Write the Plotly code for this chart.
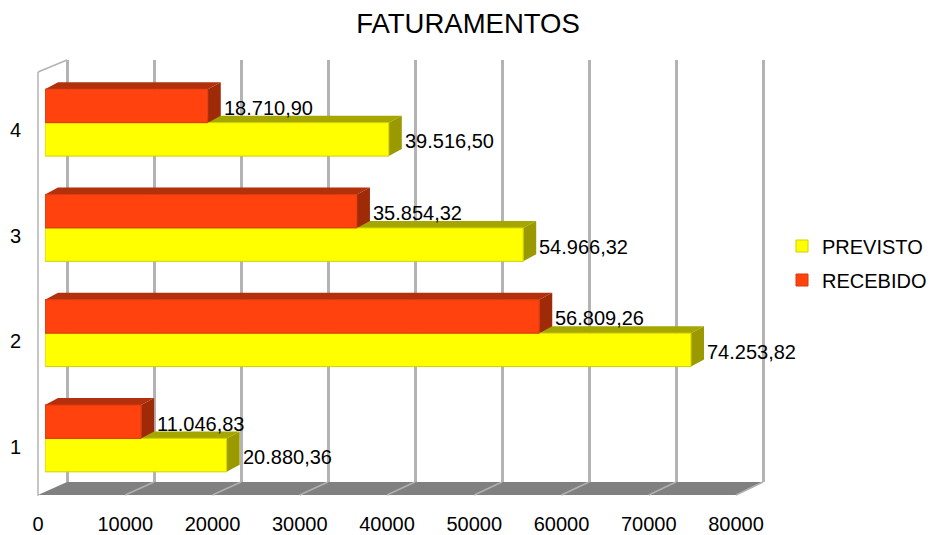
import plotly.graph_objects as go

# ---------------- data ----------------
categories = [1, 2, 3, 4]
previsto = [20880.36, 74253.82, 54966.32, 39516.50]
recebido = [11046.83, 56809.26, 35854.32, 18710.90]
series_names = ["PREVISTO", "RECEBIDO"]
x_ticks = [0, 10000, 20000, 30000, 40000, 50000, 60000, 70000, 80000]
chart_title = "FATURAMENTOS"

# ---------------- styling / geometry ----------------
W, H = 934, 535
FONT = "Liberation Sans, Arial, sans-serif"
X_MAX = 80000
PAD = 300

YELLOW, YELLOW_TOP, YELLOW_SIDE = "#ffff00", "#a6a600", "#9a9a00"
RED, RED_TOP, RED_SIDE = "#ff420e", "#b2300c", "#9e2a08"
GRID = "#b3b3b3"


def fx(px):
    return px / W


def fy(py):
    return 1 - py / H


BACK = dict(x0=67, x1=763, ytop=60, ybot=482)
FRONT = dict(x0=38, x1=736, ytop=77, ybot=500)
BARS = dict(x0=45, x1=741, ytop=70, ybot=491)
FLOOR_FRONT_Y = 495
WALL_TOP_Y = 72
DEPTH_PX = (13, 7)
BARGAP = 0.364

fmt = lambda v: f"{v:,.2f}".replace(",", "X").replace(".", ",").replace("X", ".")

fig = go.Figure()

# back plane (grid) subplot xy
sb = (BACK["x1"] - BACK["x0"]) / X_MAX
fig.add_trace(go.Scatter(x=[None], y=[None], xaxis="x", yaxis="y",
                         showlegend=False, hoverinfo="skip"))
# front label subplot x2y2
fig.add_trace(go.Scatter(x=[None], y=[None], xaxis="x2", yaxis="y2",
                         showlegend=False, hoverinfo="skip"))

# bars subplot x3y3
fig.add_trace(go.Bar(y=categories, x=previsto, orientation="h", name=series_names[0],
                     xaxis="x3", yaxis="y3", legendgroup="a",
                     marker=dict(color=YELLOW, line=dict(color="#d0d000", width=1))))
fig.add_trace(go.Bar(y=categories, x=recebido, orientation="h", name=series_names[1],
                     xaxis="x3", yaxis="y3", legendgroup="b",
                     marker=dict(color=RED, line=dict(color="#d8380c", width=1))))

# 3D faces of the bars (data coordinates on x3/y3)
bw = (1 - BARGAP) / 2
dx = DEPTH_PX[0] / ((BARS["x1"] - BARS["x0"]) / X_MAX)
dy = DEPTH_PX[1] / ((BARS["ybot"] - BARS["ytop"]) / 4.0)

shapes = []
annotations = []
for vals, off, top_c, side_c in ((previsto, -1, YELLOW_TOP, YELLOW_SIDE),
                                 (recebido, 0, RED_TOP, RED_SIDE)):
    for c, v in zip(categories, vals):
        b = c + off * bw
        t = b + bw
        shapes.append(dict(type="path", xref="x3", yref="y3", layer="between",
                           path=f"M 0,{t} L {v},{t} L {v+dx},{t+dy} L {dx},{t+dy} Z",
                           fillcolor=top_c, line=dict(width=0)))
        shapes.append(dict(type="path", xref="x3", yref="y3", layer="between",
                           path=f"M {v},{b} L {v},{t} L {v+dx},{t+dy} L {v+dx},{b+dy} Z",
                           fillcolor=side_c, line=dict(width=0)))
        annotations.append(dict(x=v, y=(b + t) / 2, xref="x3", yref="y3",
                                text=fmt(v), showarrow=False, xanchor="left",
                                yanchor="middle", xshift=DEPTH_PX[0] + 1, yshift=-2,
                                font=dict(family=FONT, size=20, color="#000000")))

# floor
sf = (FRONT["x1"] - FRONT["x0"]) / X_MAX
shapes.append(dict(type="path", xref="paper", yref="paper", layer="below",
                   path=(f"M {fx(FRONT['x0'])},{fy(FLOOR_FRONT_Y)} L {fx(BACK['x0'])},{fy(BACK['ybot'])} "
                         f"L {fx(BACK['x1'])},{fy(BACK['ybot'])} L {fx(FRONT['x1'])},{fy(FLOOR_FRONT_Y)} Z"),
                   fillcolor="#808080", line=dict(width=0)))
for v in x_ticks[1:]:
    shapes.append(dict(type="line", xref="paper", yref="paper", layer="below",
                       x0=fx(BACK["x0"] + v * sb), y0=fy(BACK["ybot"]),
                       x1=fx(FRONT["x0"] + v * sf), y1=fy(FLOOR_FRONT_Y),
                       line=dict(color="#b0b0b0", width=1.5)))
# left wall
shapes.append(dict(type="line", xref="paper", yref="paper", layer="below",
                   x0=fx(FRONT["x0"]), y0=fy(FLOOR_FRONT_Y + 1), x1=fx(FRONT["x0"]), y1=fy(WALL_TOP_Y),
                   line=dict(color=GRID, width=1.5)))
shapes.append(dict(type="line", xref="paper", yref="paper", layer="below",
                   x0=fx(FRONT["x0"]), y0=fy(WALL_TOP_Y), x1=fx(BACK["x0"]), y1=fy(BACK["ytop"]),
                   line=dict(color=GRID, width=1.5)))

fig.update_layout(
    width=W, height=H, autosize=False,
    margin=dict(l=0, r=0, t=0, b=0, pad=0, autoexpand=False),
    paper_bgcolor="white", plot_bgcolor="rgba(0,0,0,0)",
    font=dict(family=FONT, size=20, color="#000000"),
    barmode="group", bargap=BARGAP, bargroupgap=0,
    title=dict(text=chart_title, x=fx(468), xanchor="center", y=fy(23.5), yanchor="middle",
               xref="paper", yref="container",
               font=dict(family=FONT, size=27.5, color="#000000")),
    showlegend=True,
    legend=dict(x=fx(782), xanchor="left", y=fy(263), yanchor="middle",
                font=dict(family=FONT, size=20, color="#000000"),
                traceorder="grouped", tracegroupgap=5, bgcolor="rgba(0,0,0,0)"),
    xaxis=dict(domain=[fx(BACK["x0"] - PAD * sb), fx(BACK["x1"] + PAD * sb)],
               range=[-PAD, X_MAX + PAD], anchor="y", tickvals=x_ticks,
               showgrid=True, gridcolor=GRID, gridwidth=3, zeroline=False,
               showticklabels=False, showline=False, ticks=""),
    yaxis=dict(domain=[fy(BACK["ybot"]), fy(BACK["ytop"])], range=[0, 1], anchor="x",
               visible=False),
    xaxis2=dict(domain=[fx(FRONT["x0"]), fx(FRONT["x1"])], range=[0, X_MAX], anchor="y2",
                tickvals=x_ticks, ticktext=[str(t) for t in x_ticks],
                showgrid=False, zeroline=False, showline=False,
                ticks="outside", ticklen=6, tickcolor="rgba(0,0,0,0)",
                tickfont=dict(family=FONT, size=20, color="#000000")),
    yaxis2=dict(domain=[fy(FRONT["ybot"]), fy(FRONT["ytop"])], range=[0.5, 4.5], anchor="x2",
                tickvals=categories, ticktext=[str(c) for c in categories],
                showgrid=False, zeroline=False, showline=False,
                ticks="outside", ticklen=12, tickcolor="rgba(0,0,0,0)",
                tickfont=dict(family=FONT, size=20, color="#000000")),
    xaxis3=dict(domain=[fx(BARS["x0"]), fx(BARS["x1"])], range=[0, X_MAX], anchor="y3",
                visible=False),
    yaxis3=dict(domain=[fy(BARS["ybot"]), fy(BARS["ytop"])], range=[0.5, 4.5], anchor="x3",
                visible=False),
    shapes=shapes,
    annotations=annotations,
)

fig.write_html("out.html", config={"displayModeBar": False},
               post_script="document.body.style.margin='0px';document.body.style.overflow='hidden';")
